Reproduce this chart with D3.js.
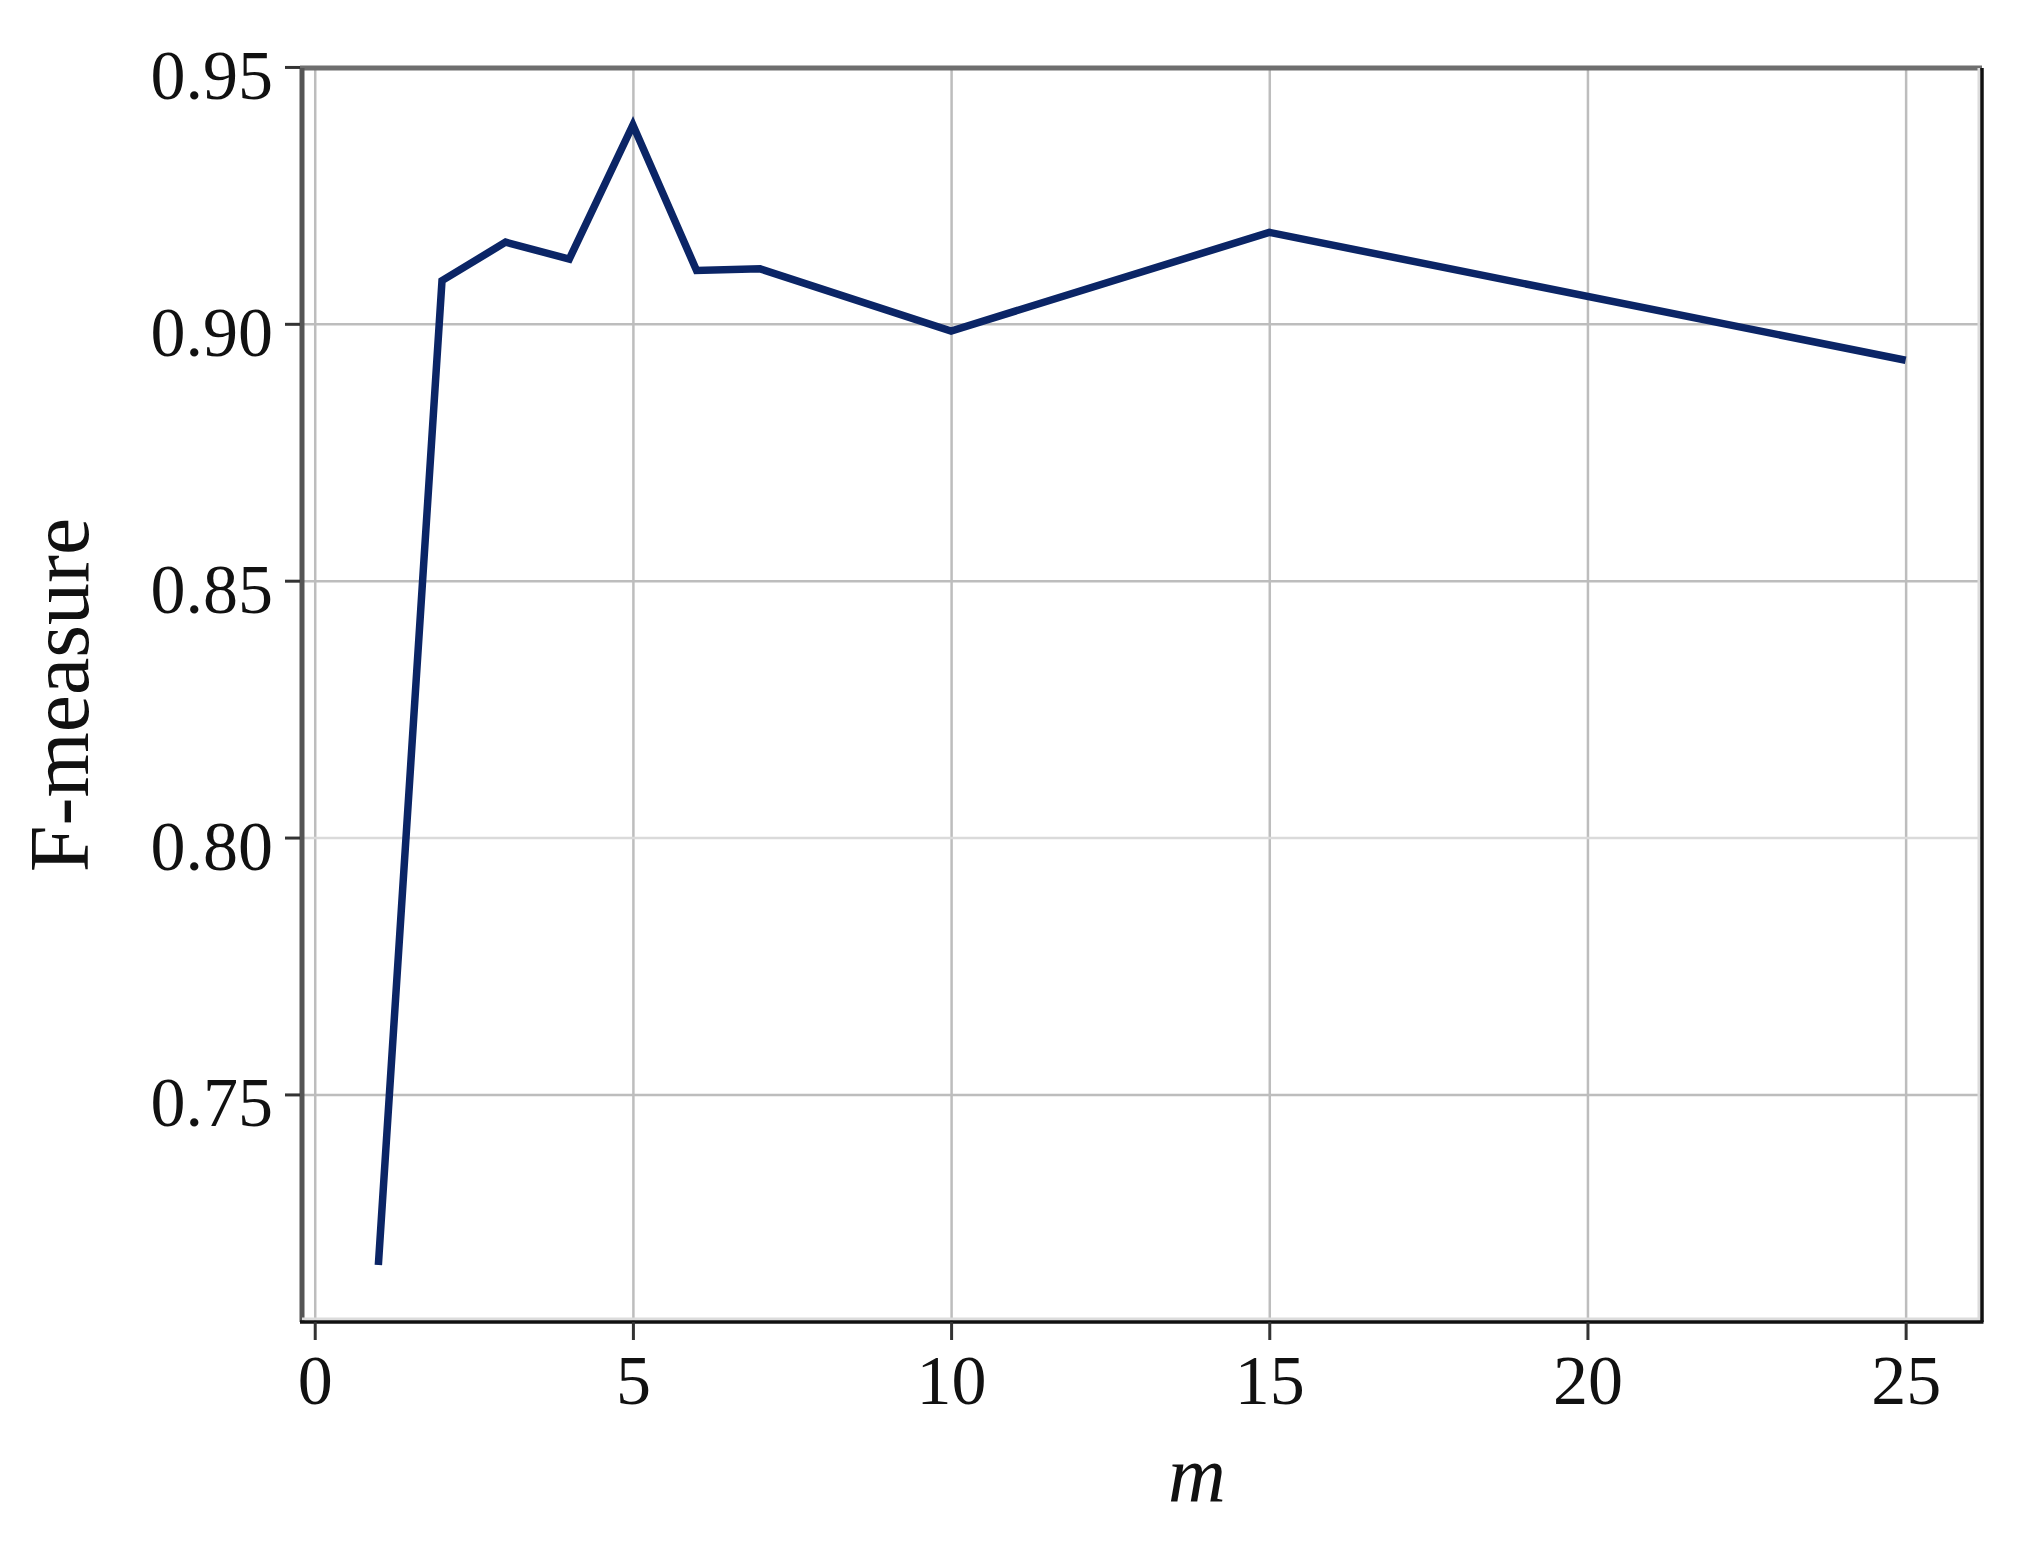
<!DOCTYPE html>
<html>
<head>
<meta charset="utf-8">
<script src="https://cdn.jsdelivr.net/npm/d3@7"></script>
<style>
  body { margin: 0; background: #fff; }
  svg { display: block; }
  svg text { font-family: "Liberation Serif", "DejaVu Serif", serif; }
</style>
</head>
<body>
<svg id="chart"></svg>
<script>
const mValues = [1, 2, 3, 4, 5, 6, 7, 10, 15, 25];
const fMeasure = [0.7168, 0.9084, 0.9159, 0.9126, 0.9387, 0.9104, 0.9107, 0.8986, 0.9178, 0.8929];
const xTicks = [0, 5, 10, 15, 20, 25];
const yTicks = [0.75, 0.80, 0.85, 0.90, 0.95];

(() => {
  const W = 2024;
  const H = 1544;
  const margin = { top: 68, right: 42, bottom: 222, left: 302 };
  const width = W - margin.left - margin.right;
  const height = H - margin.top - margin.bottom;
  const serif = '"Liberation Serif", "DejaVu Serif", serif';

  const data = mValues.map((m, i) => ({ m, f: fMeasure[i] }));

  const svg = d3.select('svg#chart')
    .attr('width', W)
    .attr('height', H);

  const g = svg.append('g')
    .attr('transform', `translate(${margin.left},${margin.top})`);

  // 5% padding on both axes
  const xExt = d3.extent(mValues);
  const xPad = (xExt[1] - xExt[0]) * 0.05;
  const yExt = d3.extent(fMeasure);
  const yPad = (yExt[1] - yExt[0]) * 0.05;

  const xScale = d3.scaleLinear()
    .domain([xExt[0] - xPad, xExt[1] + xPad])
    .range([0, width]);

  const yScale = d3.scaleLinear()
    .domain([yExt[0] - yPad, yExt[1] + yPad])
    .range([height, 0]);

  // grid
  g.append('g')
    .attr('transform', `translate(0,${height})`)
    .call(d3.axisBottom(xScale).tickValues(xTicks).tickSize(-height).tickFormat(''))
    .call(s => s.select('.domain').remove())
    .selectAll('line')
      .attr('stroke', '#bdbdbd')
      .attr('stroke-width', 2.5);

  g.append('g')
    .call(d3.axisLeft(yScale).tickValues(yTicks).tickSize(-width).tickFormat(''))
    .call(s => s.select('.domain').remove())
    .selectAll('line')
      .attr('stroke', d => d === 0.80 ? '#dadada' : '#bdbdbd')
      .attr('stroke-width', 2.5);

  // frame: top/left gray, bottom/right black
  g.append('line')
    .attr('x1', -2).attr('x2', width).attr('y1', 0).attr('y2', 0)
    .attr('stroke', '#6e6e6e').attr('stroke-width', 5);
  g.append('line')
    .attr('x1', 0).attr('x2', 0).attr('y1', 0).attr('y2', height)
    .attr('stroke', '#555').attr('stroke-width', 5);
  g.append('line')
    .attr('x1', 0).attr('x2', width).attr('y1', height - 3).attr('y2', height - 3)
    .attr('stroke', '#dcdcdc').attr('stroke-width', 3);
  g.append('line')
    .attr('x1', width - 3).attr('x2', width - 3).attr('y1', 0).attr('y2', height)
    .attr('stroke', '#dcdcdc').attr('stroke-width', 3);
  g.append('line')
    .attr('x1', -2).attr('x2', width + 1.5).attr('y1', height).attr('y2', height)
    .attr('stroke', '#111').attr('stroke-width', 3.5);
  g.append('line')
    .attr('x1', width).attr('x2', width).attr('y1', 0).attr('y2', height)
    .attr('stroke', '#111').attr('stroke-width', 3.5);

  // axes
  g.append('g')
    .attr('transform', `translate(0,${height})`)
    .call(d3.axisBottom(xScale).tickValues(xTicks).tickSize(18).tickPadding(14))
    .call(s => s.select('.domain').remove())
    .call(s => s.selectAll('line').attr('stroke', '#333').attr('stroke-width', 3))
    .selectAll('text')
      .attr('fill', '#111')
      .style('font-family', serif)
      .style('font-size', '70px');

  g.append('g')
    .attr('transform', 'translate(-2,0)')
    .call(d3.axisLeft(yScale).tickValues(yTicks).tickSize(15).tickPadding(12).tickFormat(d3.format('.2f')))
    .call(s => s.select('.domain').remove())
    .call(s => s.selectAll('line').attr('stroke', '#333').attr('stroke-width', 3))
    .selectAll('text')
      .attr('fill', '#111')
      .attr('dy', '0.45em')
      .style('font-family', serif)
      .style('font-size', '70px');

  // line
  const line = d3.line()
    .x(d => xScale(d.m))
    .y(d => yScale(d.f));

  g.append('path')
    .datum(data)
    .attr('d', line)
    .attr('fill', 'none')
    .attr('stroke', '#0b2566')
    .attr('stroke-width', 7.5)
    .attr('stroke-linejoin', 'miter');

  // axis titles
  svg.append('text')
    .attr('x', 1197)
    .attr('y', 1501)
    .attr('text-anchor', 'middle')
    .style('font-size', '80px')
    .style('font-style', 'italic')
    .attr('fill', '#111')
    .text('m');

  svg.append('text')
    .attr('transform', `translate(88,${margin.top + height / 2}) rotate(-90)`)
    .attr('text-anchor', 'middle')
    .style('font-size', '84px')
    .attr('fill', '#111')
    .text('F-measure');
})();
</script>
</body>
</html>
